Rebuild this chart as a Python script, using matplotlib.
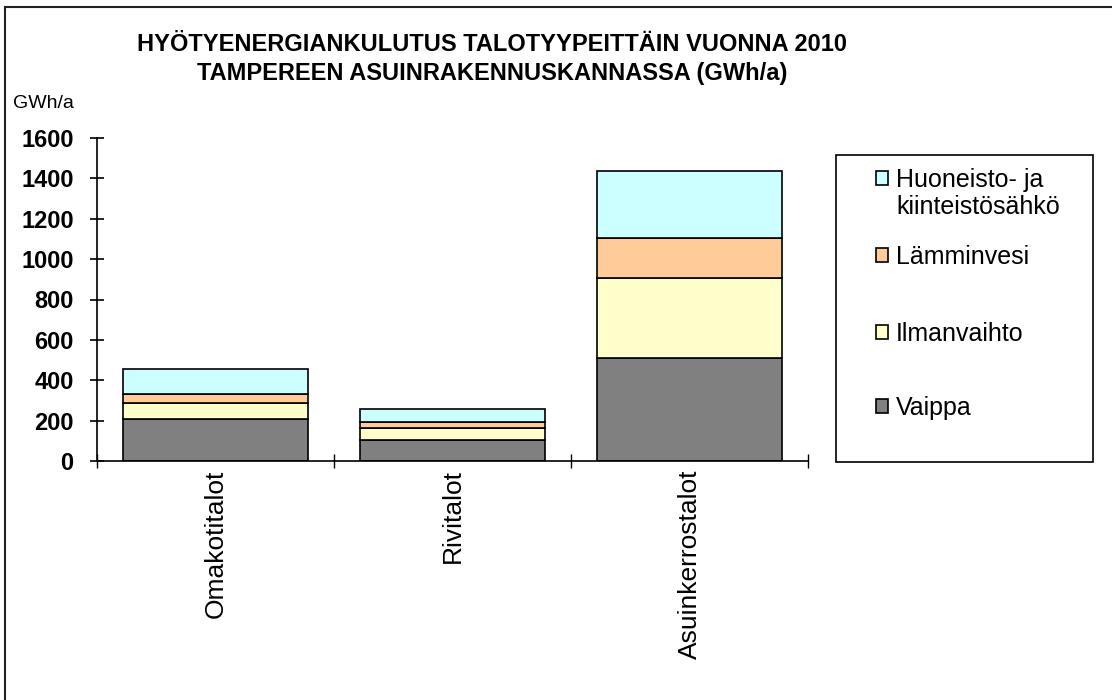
import matplotlib
matplotlib.use("Agg")
import matplotlib.pyplot as plt
from matplotlib.patches import Rectangle
import numpy as np

plt.rcParams['font.family'] = ['Liberation Sans', 'DejaVu Sans']

categories = ["Omakotitalot", "Rivitalot", "Asuinkerrostalot"]
series_names = ["Vaippa", "Ilmanvaihto", "Lämminvesi", "Huoneisto- ja\nkiinteistösähkö"]
vaippa = [208, 104, 510]
ilmanvaihto = [81, 59, 398]
lamminvesi = [44, 32, 198]
sahko = [123, 62, 332]
series_values = [vaippa, ilmanvaihto, lamminvesi, sahko]
colors = ["#808080", "#FFFFCC", "#FFCC99", "#CCFFFF"]
yticks = [0, 200, 400, 600, 800, 1000, 1200, 1400, 1600]
title = "HYÖTYENERGIANKULUTUS TALOTYYPEITTÄIN VUONNA 2010\nTAMPEREEN ASUINRAKENNUSKANNASSA (GWh/a)"

W, H = 1112, 700
fig = plt.figure(figsize=(W / 100, H / 100), dpi=100)

def fx(px):
    return px / W

def fy(py):
    return 1 - py / H

# outer border (left and top visible)
fig.patches.append(Rectangle((fx(5), fy(706)), fx(1115) - fx(5), fy(7) - fy(706),
                             transform=fig.transFigure, fill=False, edgecolor="#222222",
                             linewidth=1.5))

ax = fig.add_axes([fx(97), fy(461), fx(808) - fx(97), fy(138) - fy(461)])
x = np.arange(len(categories))
bottom = np.zeros(len(categories))
handles = []
for name, vals, c in zip(series_names, series_values, colors):
    b = ax.bar(x, vals, width=0.78, bottom=bottom, color=c, edgecolor="black",
               linewidth=1.2, label=name)
    handles.append(b)
    bottom += np.array(vals)

ax.set_xlim(-0.5, len(categories) - 0.5)
ax.set_ylim(0, 1600)
ax.set_yticks(yticks)
ax.set_yticklabels([str(v) for v in yticks], fontsize=17, fontweight="bold")
ax.tick_params(axis="y", direction="inout", length=9.5, width=1.2, pad=12)
for s in ["top", "right"]:
    ax.spines[s].set_visible(False)
for s in ["left", "bottom"]:
    ax.spines[s].set_linewidth(1.2)

# category ticks at boundaries
ax.set_xticks(np.arange(len(categories) + 1) - 0.5, minor=False)
ax.set_xticklabels([])
ax.tick_params(axis="x", which="major", direction="inout", length=10, width=1.0)
ax.set_xticks(x, minor=True)
ax.set_xticklabels(categories, minor=True, rotation=90, fontsize=19, va="top")
ax.tick_params(axis="x", which="minor", length=0, pad=6)

fig.text(fx(492), fy(59), title, ha="center", va="center", fontsize=17,
         fontweight="bold", linespacing=1.3)
fig.text(fx(13), fy(104), "GWh/a", ha="left", va="center", fontsize=14)

# legend frame
fig.patches.append(Rectangle((fx(836), fy(462)), fx(1093) - fx(836), fy(155) - fy(462),
                             transform=fig.transFigure, fill=False, edgecolor="black",
                             linewidth=1.2))
legend_y = [180, 257, 334, 408]
for h, name, yy in zip(handles[::-1], series_names[::-1], legend_y):
    lines = name.split("\n")
    lg = fig.legend([h], [lines[0]], loc="center left", bbox_to_anchor=(fx(876), fy(yy)),
                    frameon=False, fontsize=18, handlelength=0.48, handleheight=0.48,
                    handletextpad=0.32, borderpad=0, borderaxespad=0)
    for k, extra in enumerate(lines[1:], start=1):
        fig.text(fx(896), fy(yy + 27 * k), extra, ha="left", va="center", fontsize=18)

fig.savefig("out.png", dpi=100, facecolor="white")
